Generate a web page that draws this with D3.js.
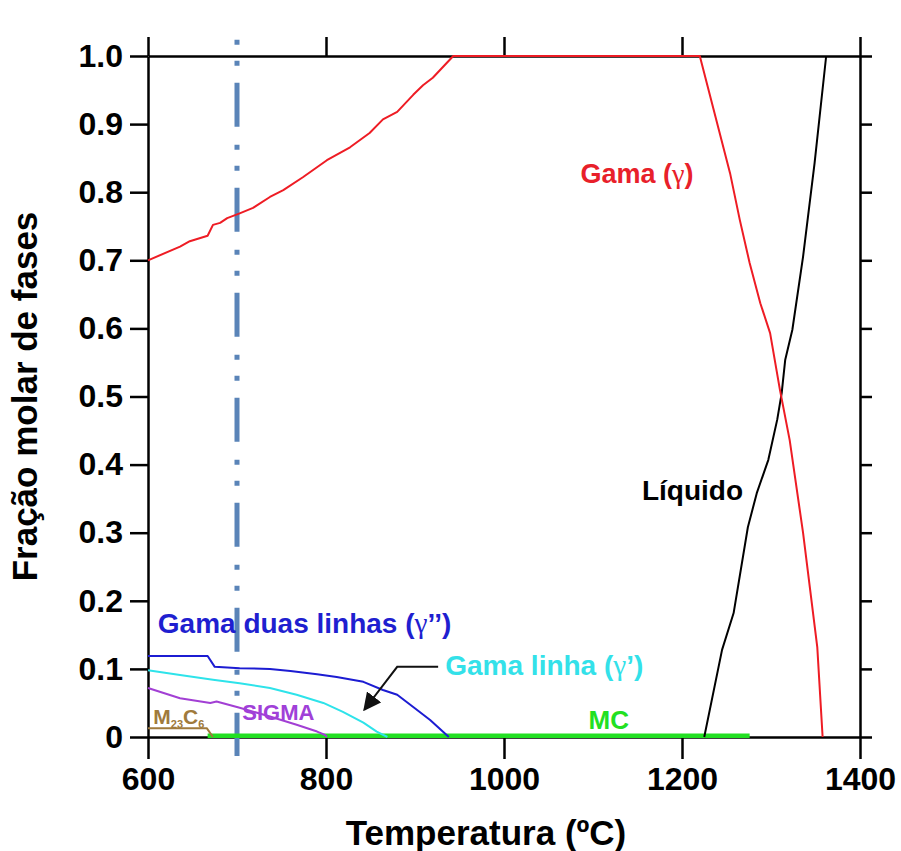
<!DOCTYPE html>
<html>
<head>
<meta charset="utf-8">
<script src="https://cdn.jsdelivr.net/npm/d3@7/dist/d3.min.js"></script>
<style>
	body { margin: 0; background: #fff; }
	text { font-family: "Liberation Sans", Arial, sans-serif; font-weight: bold; }
	.gr { font-family: "Liberation Serif", serif; font-weight: normal; }
</style>
</head>
<body>
<div id="chart"></div>
<script>
// temperatura (ºC) e fração molar
const gamaT     = [600, 636, 647, 667, 673, 681, 689, 703, 718, 737, 752, 774, 801, 827, 849, 864, 880, 898, 909, 920, 943, 1220, 1254, 1265, 1276, 1288, 1299, 1310, 1321, 1336, 1344, 1352, 1358];
const gamaV     = [0.70, 0.72, 0.728, 0.736, 0.752, 0.755, 0.762, 0.769, 0.777, 0.793, 0.803, 0.822, 0.847, 0.866, 0.887, 0.907, 0.918, 0.943, 0.957, 0.968, 1.0, 1.0, 0.828, 0.759, 0.696, 0.637, 0.593, 0.51, 0.436, 0.30, 0.216, 0.132, 0];
const liquidoT  = [1225, 1245, 1258, 1274, 1284, 1297, 1307, 1312, 1316, 1324, 1336, 1349, 1362];
const liquidoV  = [0, 0.128, 0.182, 0.308, 0.358, 0.407, 0.466, 0.505, 0.554, 0.598, 0.705, 0.843, 1.0];
const duasT     = [600, 667, 675, 703, 737, 760, 790, 812, 842, 864, 880, 898, 917, 938];
const duasV     = [0.119, 0.119, 0.103, 0.101, 0.10, 0.097, 0.092, 0.088, 0.081, 0.069, 0.062, 0.044, 0.025, 0];
const linhaT    = [600, 636, 673, 703, 737, 767, 797, 819, 842, 857, 869];
const linhaV    = [0.098, 0.091, 0.084, 0.079, 0.072, 0.062, 0.05, 0.037, 0.021, 0.008, 0];
const sigmaT    = [600, 636, 670, 677, 703, 737, 767, 790, 799, 801];
const sigmaV    = [0.072, 0.057, 0.05, 0.052, 0.043, 0.03, 0.018, 0.008, 0.003, 0];
const m23T      = [600, 666, 673];
const m23V      = [0.013, 0.013, 0];
const mcT       = [667, 1276];
const mcV       = [0.002, 0.002];
const xTicks    = [600, 800, 1000, 1200, 1400];
const yTicks    = [0, 0.1, 0.2, 0.3, 0.4, 0.5, 0.6, 0.7, 0.8, 0.9, 1.0];
const marcaT    = 700;
const setaT     = [926, 880, 843];
const setaV     = [0.103, 0.103, 0.04];

let canvasWidth  = 901;
let canvasHeight = 851;
let margin       = { top: 56, right: 41, bottom: 114, left: 148 };
let width        = canvasWidth - margin.left - margin.right;
let height       = canvasHeight - margin.top - margin.bottom;

let x = d3.scaleLinear().domain([600, 1400]).range([0, width]);
let y = d3.scaleLinear().domain([0, 1]).range([height, 0]);

let svg = d3.select("#chart").append("svg")
	.attr("width", canvasWidth)
	.attr("height", canvasHeight)
	.append("g")
		.attr("transform", "translate(" + margin.left + "," + margin.top + ")");

let defs = svg.append("defs");
defs.append("marker")
	.attr("id", "ponta")
	.attr("viewBox", "0 0 10 10")
	.attr("refX", 9).attr("refY", 5)
	.attr("markerWidth", 9).attr("markerHeight", 9)
	.attr("markerUnits", "strokeWidth")
	.attr("orient", "auto")
	.append("path").attr("d", "M0,0L10,5L0,10Z").attr("fill", "#111");

let yFmt = (d) => (d === 0 ? "0" : d3.format(".1f")(d));

function styleAxis(g) {
	g.selectAll(".domain, .tick line").attr("stroke", "#000").attr("stroke-width", 2.5);
	g.selectAll(".tick text").attr("font-size", 32).attr("fill", "#000");
}

svg.append("g")
	.attr("transform", "translate(0," + height + ")")
	.call(d3.axisBottom(x).tickValues(xTicks).tickFormat(d3.format("d")).tickSize(22).tickSizeOuter(0).tickPadding(8))
	.call(styleAxis);

svg.append("g")
	.call(d3.axisTop(x).tickValues(xTicks).tickSize(19).tickSizeOuter(0).tickFormat(""))
	.call(styleAxis);

svg.append("g")
	.call(d3.axisLeft(y).tickValues(yTicks).tickFormat(yFmt).tickSize(18).tickSizeOuter(0).tickPadding(7))
	.call(styleAxis);

svg.append("g")
	.attr("transform", "translate(" + width + ",0)")
	.call(d3.axisRight(y).tickValues(yTicks).tickSize(12).tickSizeOuter(0).tickFormat(""))
	.call(styleAxis);

// linha de referência a 700 ºC
svg.append("line")
	.attr("x1", x(marcaT)).attr("x2", x(marcaT))
	.attr("y1", y(1.024)).attr("y2", y(-0.028))
	.attr("stroke", "#5a84b8")
	.attr("stroke-width", 5)
	.attr("stroke-dasharray", "5,16,5,17,44,18");

let line = d3.line().x((o) => (x(o[0]))).y((o) => (y(o[1])));

let series = [
	{ t: mcT,      v: mcV,      color: "#22e022", w: 4.5 },
	{ t: m23T,     v: m23V,     color: "#a07a3c", w: 2 },
	{ t: sigmaT,   v: sigmaV,   color: "#a23fd4", w: 2 },
	{ t: linhaT,   v: linhaV,   color: "#2ee3ea", w: 2 },
	{ t: duasT,    v: duasV,    color: "#1c1cd2", w: 2 },
	{ t: liquidoT, v: liquidoV, color: "#000000", w: 2 },
	{ t: gamaT,    v: gamaV,    color: "#ee1c24", w: 2 }
];

svg.append("g").selectAll("path").data(series).enter().append("path")
	.attr("d", (o) => (line(d3.zip(o.t, o.v))))
	.attr("fill", "none")
	.attr("stroke", (o) => (o.color))
	.attr("stroke-width", (o) => (o.w))
	.attr("stroke-linejoin", "round");

// seta para gama linha
svg.append("path")
	.attr("d", line(d3.zip(setaT, setaV)))
	.attr("fill", "none")
	.attr("stroke", "#111")
	.attr("stroke-width", 2)
	.attr("marker-end", "url(#ponta)");

// rótulos
function label(txt, t, v, size, color, greek) {
	let el = svg.append("text")
		.attr("x", x(t)).attr("y", y(v))
		.attr("font-size", size)
		.attr("fill", color)
		.text(txt);
	if (greek) {
		el.append("tspan").text(" (");
		el.append("tspan").attr("class", "gr").attr("font-size", size * 1.05).text("γ");
		el.append("tspan").text(greek);
	}
	return el;
}

label("Gama", 1086, 0.813, 27, "#e8202a", ")");
label("Líquido", 1155, 0.348, 28, "#000", null);
label("Gama duas linhas", 611, 0.153, 28, "#1f1fd0", "’’)");
label("Gama linha", 934, 0.091, 28, "#33e1e9", "’)");
label("SIGMA", 706, 0.025, 22, "#a040d8", null);
label("MC", 1095, 0.012, 26, "#22e022", null);

let m23 = svg.append("text")
	.attr("x", x(606)).attr("y", y(0.019))
	.attr("font-size", 21)
	.attr("fill", "#a07a3c");
m23.append("tspan").text("M");
m23.append("tspan").attr("font-size", 11).attr("dy", 4).text("23");
m23.append("tspan").attr("dy", -4).text("C");
m23.append("tspan").attr("font-size", 11).attr("dy", 4).text("6");

// títulos dos eixos
svg.append("text")
	.attr("x", width / 2 - 18).attr("y", height + 108)
	.attr("text-anchor", "middle")
	.attr("font-size", 35)
	.text("Temperatura (ºC)");

svg.append("text")
	.attr("transform", "translate(" + (-111) + "," + (height / 2) + ") rotate(-90)")
	.attr("text-anchor", "middle")
	.attr("font-size", 35)
	.text("Fração molar de fases");
</script>
</body>
</html>
